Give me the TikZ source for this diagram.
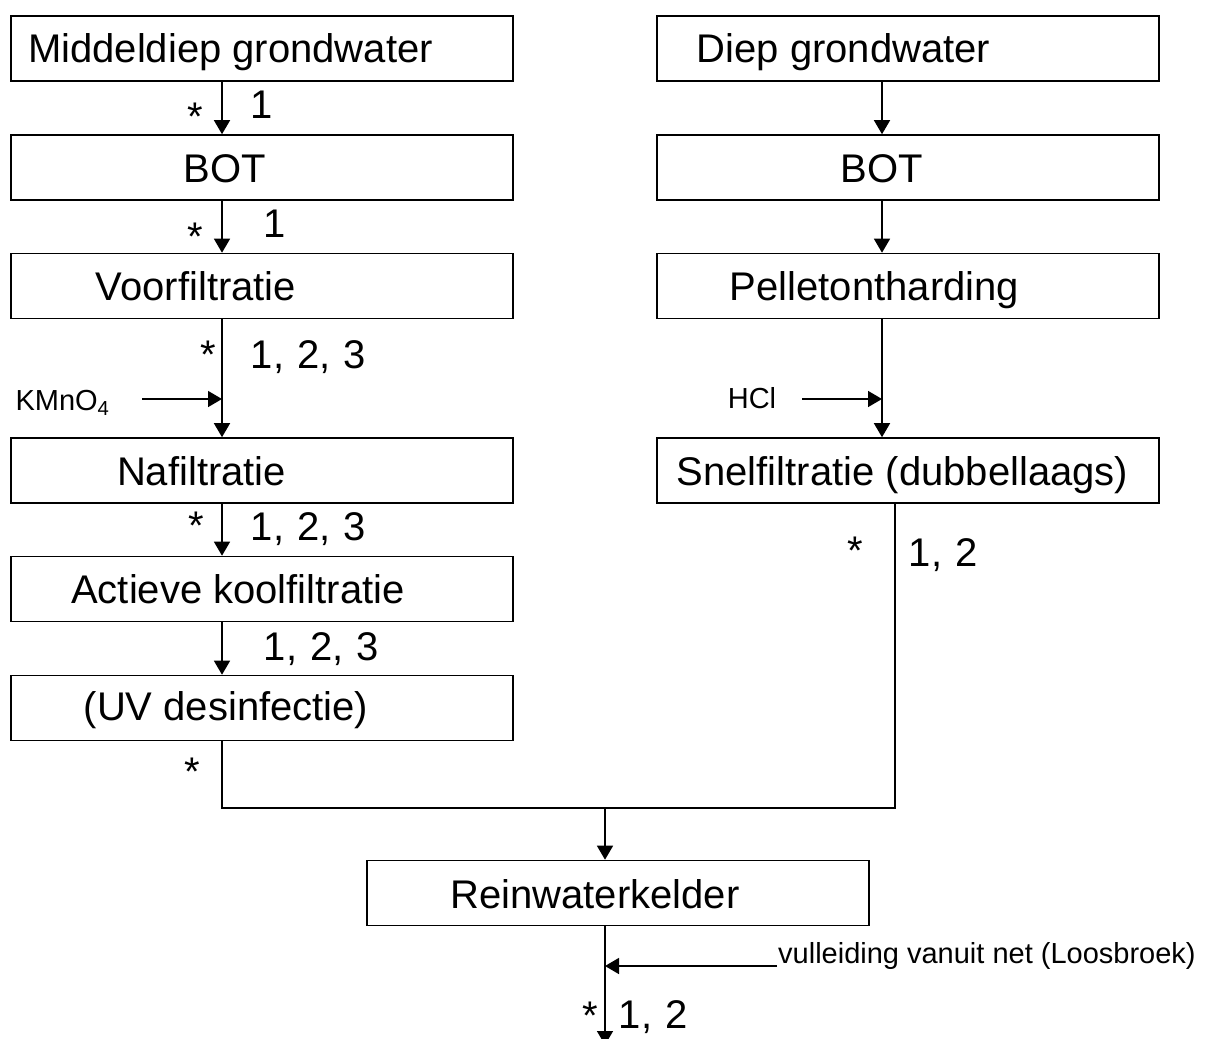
\documentclass[tikz,border=0pt]{standalone}
\usepackage{fontspec}
\setmainfont{Liberation Sans}
\usetikzlibrary{arrows.meta}
\newcommand\nsp{\hspace{0.33em}}
\begin{document}
\begin{tikzpicture}[x=1pt,y=-1pt,
  box/.style={draw, line width=1.6pt, minimum width=502pt, minimum height=65pt, inner sep=0pt},
  arr/.style={line width=1.5pt, -{Triangle[length=14pt,width=16pt]}},
  ln/.style={line width=1.5pt},
  big/.style={font=\fontsize{40}{48}\selectfont, inner sep=0pt, anchor=base},
  small/.style={font=\fontsize{29}{34}\selectfont, inner sep=0pt, anchor=base}]
\useasboundingbox (0,0) rectangle (1224,1039);
% axes of the connectors
\coordinate (ax) at (222,0);
\coordinate (bx) at (882,0);
% left column boxes
\node[box] (l1) at (262,48.5) {};
\node[box] (l2) at (262,167.5) {};
\node[box] (l3) at (262,286) {};
\node[box] (l4) at (262,470.5) {};
\node[box] (l5) at (262,589) {};
\node[box] (l6) at (262,708) {};
% right column boxes
\node[box] (r1) at (908,48.5) {};
\node[box] (r2) at (908,167.5) {};
\node[box] (r3) at (908,286) {};
\node[box] (r4) at (908,470.5) {};
% reinwaterkelder
\node[box] (rw) at (618,893) {};
% box texts
\node[big] (tl1) at (230.5,62) {Middeldiep grondwater};
\node[big] (tl2) at (225,182) {BOT};
\node[big] (tl3) at (196,300) {Voorfiltratie};
\node[big] (tl4) at (201.5,485.5) {Nafiltratie};
\node[big] (tl5) at (238,603.5) {Actieve koolfiltratie};
\node[big] (tl6) at (226,720.5) {(UV desinfectie)};
\node[big] (tr1) at (843.5,62) {Diep grondwater};
\node[big] (tr2) at (882,182) {BOT};
\node[big] (tr3) at (874.5,300) {Pelletontharding};
\node[big] (tr4) at (902.5,485.5) {Snelfiltratie (dubbellaags)};
\node[big] (trw) at (595,908.5) {Reinwaterkelder};
% left column connectors
\draw[arr] (l1.south -| ax) -- (l2.north -| ax);
\draw[arr] (l2.south -| ax) -- (l3.north -| ax);
\draw[arr] (l3.south -| ax) -- (l4.north -| ax);
\draw[arr] (l4.south -| ax) -- (l5.north -| ax);
\draw[arr] (l5.south -| ax) -- (l6.north -| ax);
% right column connectors
\draw[arr] (r1.south -| bx) -- (r2.north -| bx);
\draw[arr] (r2.south -| bx) -- (r3.north -| bx);
\draw[arr] (r3.south -| bx) -- (r4.north -| bx);
% dosing
\node[small] (km) at (62.5,410) {KMnO\textsubscript{4}};
\coordinate (kms) at (142,399);
\draw[arr] (kms) -- (kms -| ax);
\node[small] (hcl) at (752,408) {HCl};
\coordinate (hcs) at (802,399);
\draw[arr] (hcs) -- (hcs -| bx);
% merge
\coordinate (jl) at (222,808);
\coordinate (jr) at (895,808);
\coordinate (jm) at (605,808);
\draw[ln] (l6.south -| jl) -- (jl) -- (jr) -- (r4.south -| jr);
\draw[arr] (jm) -- (rw.north -| jm);
\coordinate (outend) at (605,1045);
\draw[arr] (rw.south -| jm) -- (outend);
% vulleiding
\node[small, anchor=base west] (vul) at (778,963) {vulleiding vanuit net (Loosbroek)};
\coordinate (vs) at (777,966);
\draw[arr] (vs) -- (vs -| jm);
% stars
\node[big] (s1) at (195,130) {*};
\node[big] (s2) at (195,250) {*};
\node[big] (s3) at (208,368) {*};
\node[big] (s4) at (196,539) {*};
\node[big] (s5) at (192,785) {*};
\node[big] (s6) at (855,564) {*};
\node[big] (s7) at (590,1029) {*};
% numbers
\node[big, anchor=base west] (n1) at (250.6,118) {1};
\node[big, anchor=base west] (n2) at (263.6,237) {1};
\node[big, anchor=base west] (n3) at (250.6,368.6) {1,\nsp2,\nsp3};
\node[big, anchor=base west] (n4) at (250.6,540.6) {1,\nsp2,\nsp3};
\node[big, anchor=base west] (n5) at (263.6,660.6) {1,\nsp2,\nsp3};
\node[big, anchor=base west] (n6) at (908.6,566.6) {1,\nsp2};
\node[big, anchor=base west] (n7) at (618.6,1028.6) {1,\nsp2};
\end{tikzpicture}
\end{document}
